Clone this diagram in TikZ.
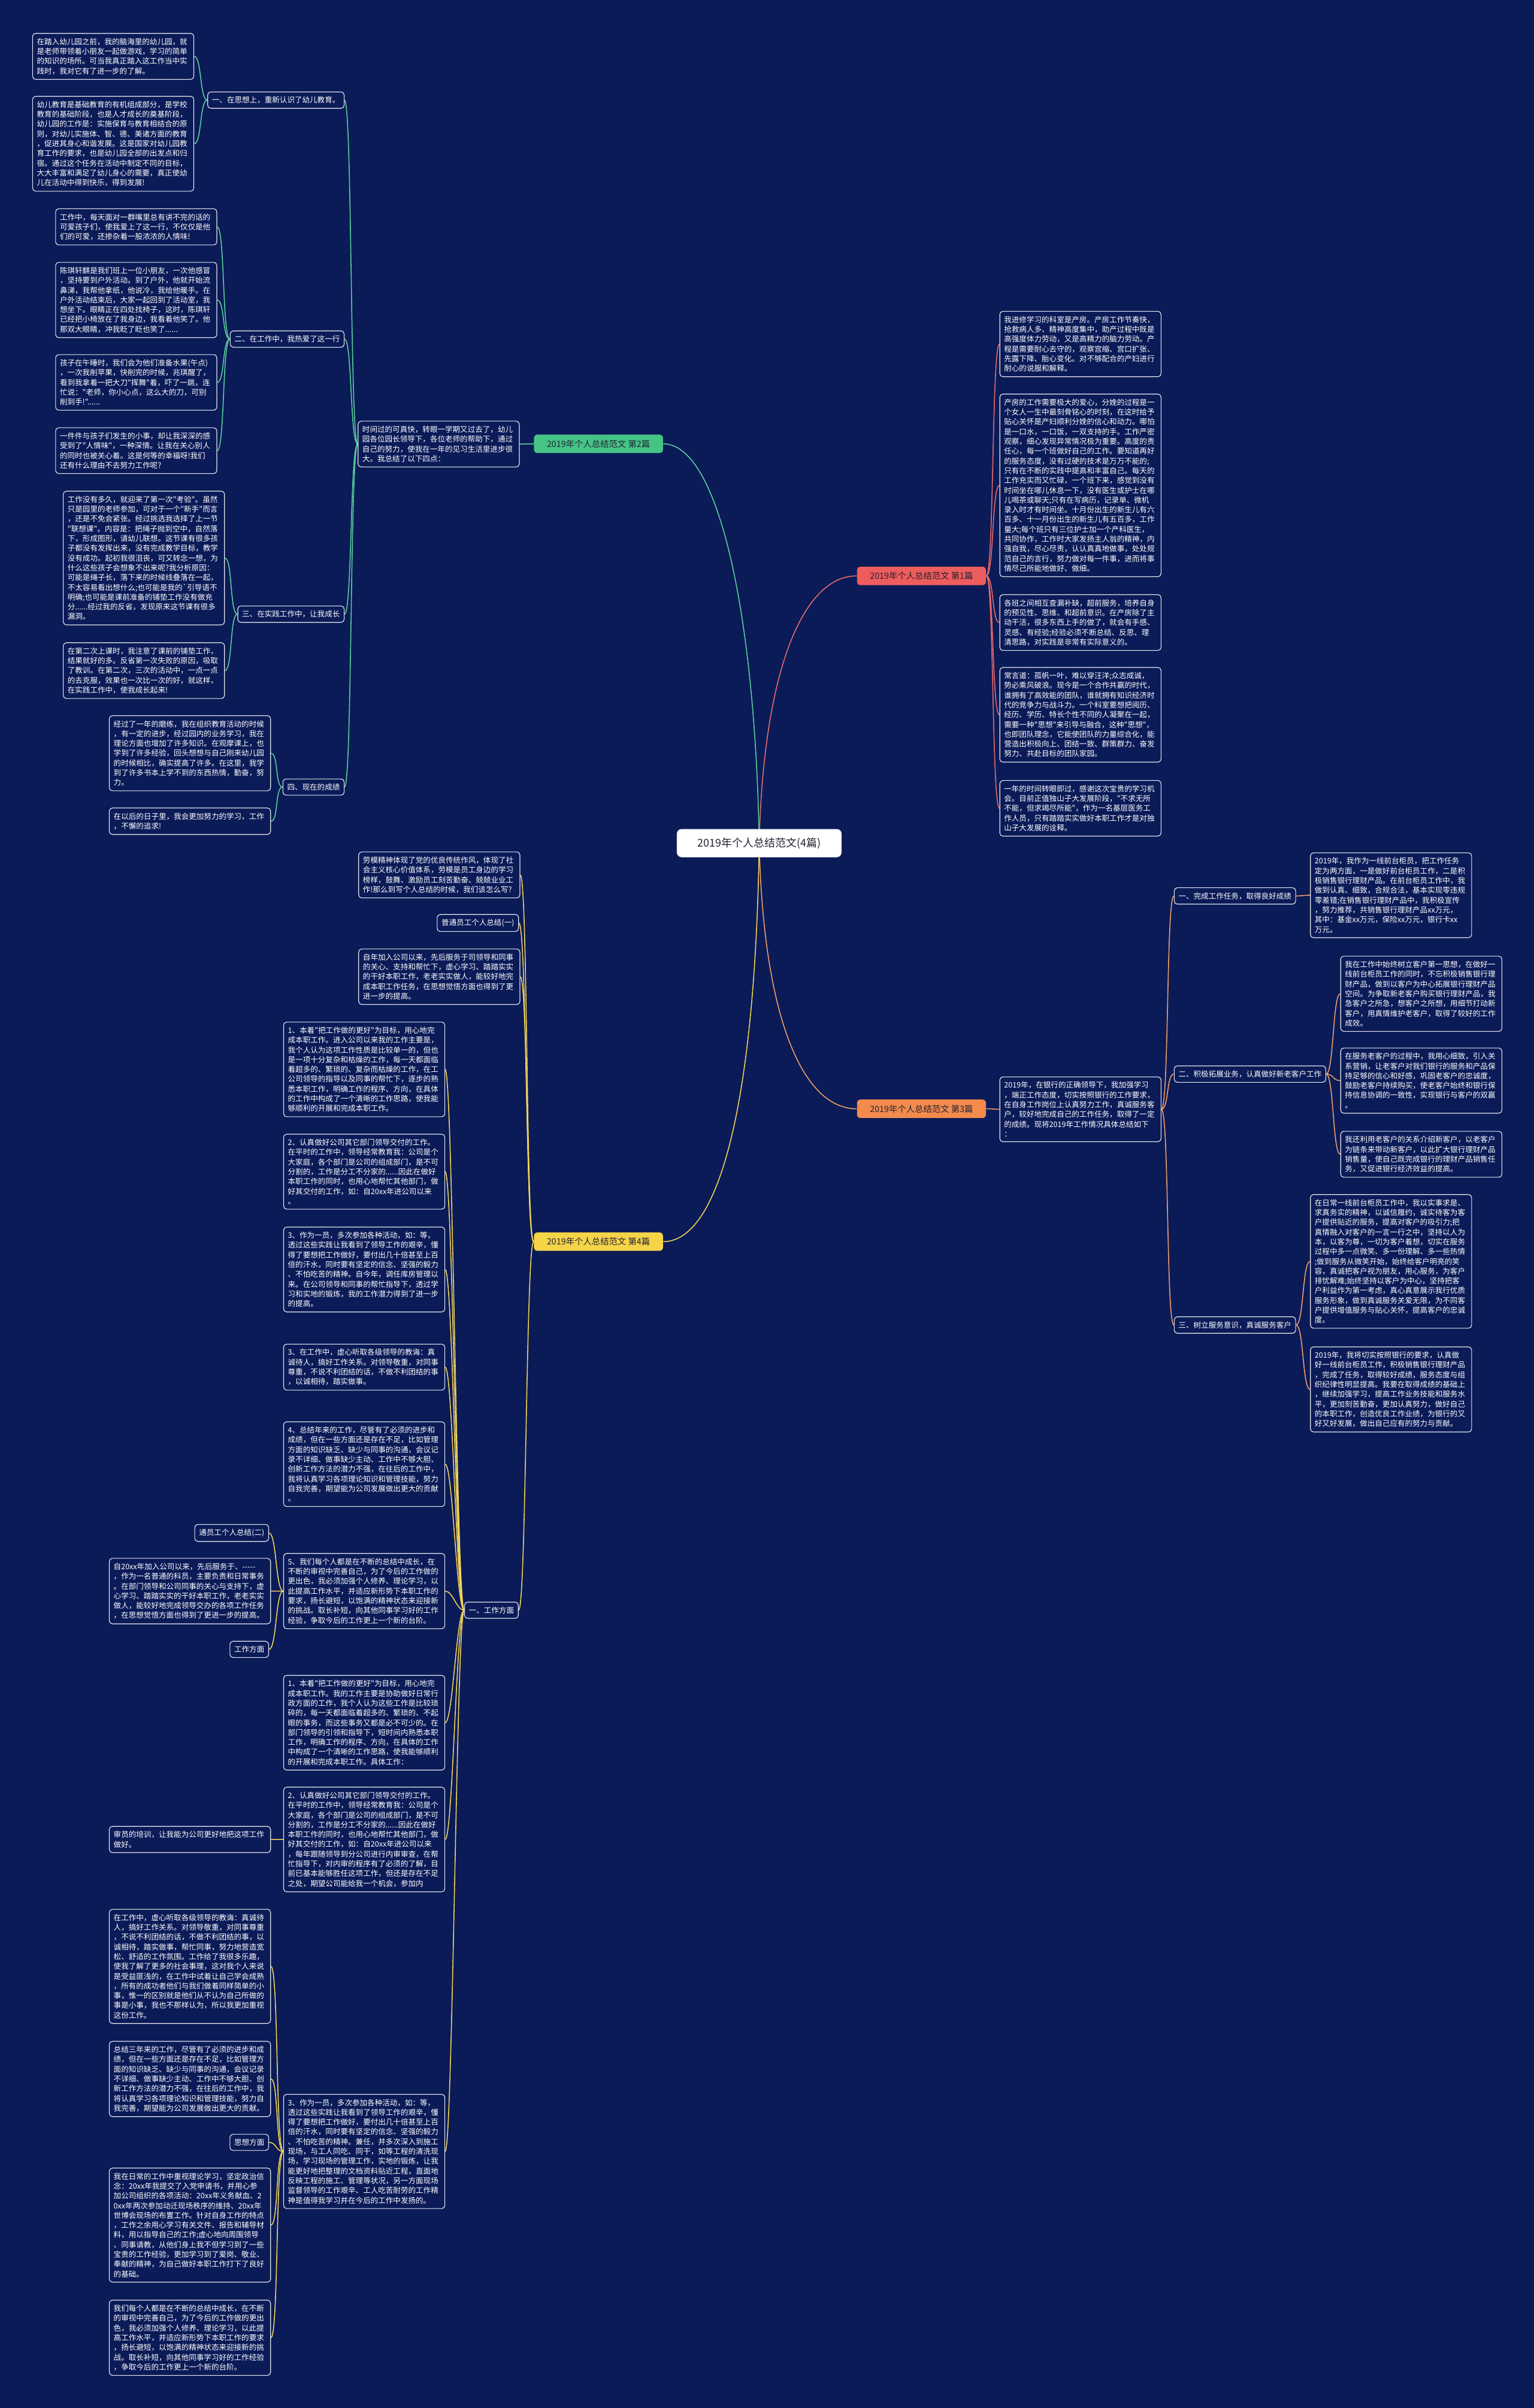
\documentclass[tikz,border=0pt]{standalone}
\usepackage{fontspec}
\newfontfamily\cjkfont{Noto Sans CJK SC}
\usetikzlibrary{calc}
\definecolor{bg}{HTML}{0B1B58}
\definecolor{bord}{HTML}{E8E8F0}
\definecolor{glin}{HTML}{5AD29A}
\definecolor{gfil}{HTML}{45C486}
\definecolor{rlin}{HTML}{EC6B6B}
\definecolor{rfil}{HTML}{EE5D5D}
\definecolor{olin}{HTML}{F3A06A}
\definecolor{ofil}{HTML}{F28B4C}
\definecolor{ylin}{HTML}{F5D55A}
\definecolor{yfil}{HTML}{F6D448}
\definecolor{dtxt}{HTML}{222233}
\pgfdeclarelayer{background}
\pgfsetlayers{background,main}
\newcommand\tfont{\cjkfont\fontsize{4.9}{6.36}\selectfont}
\newcommand\lk[3]{\draw[#1] (#2) .. controls +(-5,0) and +(5,0) .. (#3);}
\newcommand\rk[3]{\draw[#1] (#2) .. controls +(5,0) and +(-5,0) .. (#3);}
\tikzset{
  tb/.style={draw=bord, line width=0.45pt, rounded corners=2pt, fill=bg, text=white,
    font=\tfont, align=left, text width=99.4pt, inner xsep=2.8pt, inner ysep=3.1pt, anchor=north west},
  lbl/.style={draw=bord, line width=0.45pt, rounded corners=2pt, fill=bg, text=white,
    font=\tfont, inner xsep=2.8pt, inner ysep=3pt},
  brl/.style={rounded corners=2pt, text=dtxt, font=\cjkfont\fontsize{5.6}{6.5}\selectfont,
    minimum width=84pt, minimum height=12pt, inner sep=1pt},
  gl/.style={glin, line width=0.6pt},
  rl/.style={rlin, line width=0.6pt},
  ol/.style={olin, line width=0.6pt},
  yl/.style={ylin, line width=0.6pt},
}
\begin{document}
\begin{tikzpicture}[x=1pt,y=-1pt]
\begin{pgfonlayer}{background}
\fill[bg] (0,0) rectangle (999,1568);
\end{pgfonlayer}
\useasboundingbox (0,0) rectangle (999,1568);

% ---------- root ----------
\node[fill=white, draw=bord, rounded corners=3pt, text=dtxt, font=\cjkfont\fontsize{7}{8}\selectfont,
  minimum width=107pt, minimum height=18pt, inner sep=1pt] (root) at (494.5,549) {2019年个人总结范文(4篇)};

% ---------- branch 2 (green) ----------
\node[brl, fill=gfil, anchor=east] (b2) at (432,289) {2019年个人总结范文 第2篇};
\node[tb] (T2) at (233,274) {时间过的可真快，转眼一学期又过去了，幼儿\\园各位园长领导下，各位老师的帮助下，通过\\自己的努力，使我在一年的见习生活里进步很\\大。我总结了以下四点：};
\node[lbl, anchor=east] (g1) at (224.4,65.2) {一、在思想上，重新认识了幼儿教育。};
\node[lbl, anchor=east] (g2) at (224.4,220.8) {二、在工作中，我热爱了这一行};
\node[lbl, anchor=east] (g3) at (224.4,399.9) {三、在实践工作中，让我成长};
\node[lbl, anchor=east] (g4) at (224.4,512.5) {四、现在的成绩};
\node[tb] (A1) at (21,21.5) {在踏入幼儿园之前，我的脑海里的幼儿园，就\\是老师带领着小朋友一起做游戏，学习的简单\\的知识的场所。可当我真正踏入这工作当中实\\践时，我对它有了进一步的了解。};
\node[tb] (A2) at (21,62.5) {幼儿教育是基础教育的有机组成部分，是学校\\教育的基础阶段，也是人才成长的奠基阶段，\\幼儿园的工作是：实施保育与教育相结合的原\\则，对幼儿实施体、智、德、美诸方面的教育\\，促进其身心和谐发展。这是国家对幼儿园教\\育工作的要求，也是幼儿园全部的出发点和归\\宿。通过这个任务在活动中制定不同的目标，\\大大丰富和满足了幼儿身心的需要，真正使幼\\儿在活动中得到快乐，得到发展!};
\node[tb] (B1) at (36,135.7) {工作中，每天面对一群嘴里总有讲不完的话的\\可爱孩子们，使我爱上了这一行，不仅仅是他\\们的可爱，还掺杂着一股浓浓的人情味!};
\node[tb] (B2) at (36,170.6) {陈琪轩麒是我们班上一位小朋友，一次他感冒\\，坚持要到户外活动。到了户外，他就开始流\\鼻涕，我帮他拿纸，他说冷，我给他暖手。在\\户外活动结束后，大家一起回到了活动室，我\\想坐下。眼睛正在四处找椅子，这时，陈琪轩\\已经把小椅放在了我身边，我看着他笑了。他\\那双大眼睛，冲我眨了眨也笑了......};
\node[tb] (B3) at (36,230.7) {孩子在午睡时，我们会为他们准备水果(午点)\\，一次我削苹果，快削完的时候，兆琪醒了，\\看到我拿着一把大刀"挥舞"着，吓了一跳，连\\忙说："老师，你小心点，这么大的刀，可别\\削到手!"......};
\node[tb] (B4) at (36,278.3) {一件件与孩子们发生的小事，却让我深深的感\\受到了"人情味"，一种深情。让我在关心别人\\的同时也被关心着。这是何等的幸福呀!我们\\还有什么理由不去努力工作呢?};
\node[tb] (C1) at (41,319.6) {工作没有多久，就迎来了第一次"考验"。虽然\\只是园里的老师参加，可对于一个"新手"而言\\，还是不免会紧张。经过挑选我选择了上一节\\"联想课"。内容是：把绳子抛到空中，自然落\\下，形成图形，请幼儿联想。这节课有很多孩\\子都没有发挥出来，没有完成教学目标，教学\\没有成功。起初我很沮丧，可又转念一想，为\\什么这些孩子会想象不出来呢?我分析原因：\\可能是绳子长，落下来的时候线叠落在一起，\\不太容易看出想什么;也可能是我的\textasciigrave 引导语不\\明确;也可能是课前准备的铺垫工作没有做充\\分......经过我的反省，发现原来这节课有很多\\漏洞。};
\node[tb] (C2) at (41,418.3) {在第二次上课时，我注意了课前的铺垫工作，\\结果就好的多。反省第一次失败的原因，吸取\\了教训。在第二次，三次的活动中，一点一点\\的去克服，效果也一次比一次的好，就这样，\\在实践工作中，使我成长起来!};
\node[tb] (D1) at (71,465.8) {经过了一年的磨练，我在组织教育活动的时候\\，有一定的进步，经过园内的业务学习，我在\\理论方面也增加了许多知识。在观摩课上，也\\学到了许多经验，回头想想与自己刚来幼儿园\\的时候相比，确实提高了许多。在这里，我学\\到了许多书本上学不到的东西热情，勤奋，努\\力。};
\node[tb] (D2) at (71,525.9) {在以后的日子里，我会更加努力的学习，工作\\，不懈的追求!};

% ---------- branch 1 (red) ----------
\node[brl, fill=rfil, anchor=west] (b1) at (558,375) {2019年个人总结范文 第1篇};
\node[tb] (R1) at (651,202.5) {我进修学习的科室是产房。产房工作节奏快，\\抢救病人多、精神高度集中，助产过程中既是\\高强度体力劳动，又是高精力的脑力劳动。产\\程是需要耐心去守的，观察宫缩、宫口扩张、\\先露下降、胎心变化。对不够配合的产妇进行\\耐心的说服和解释。};
\node[tb] (R2) at (651,256.4) {产房的工作需要极大的爱心，分娩的过程是一\\个女人一生中最刻骨铭心的时刻，在这时给予\\贴心关怀是产妇顺利分娩的信心和动力。哪怕\\是一口水，一口饭，一双支持的手。工作严密\\观察，细心发现异常情况极为重要。高度的责\\任心，每一个班做好自己的工作。要知道再好\\的服务态度，没有过硬的技术是万万不能的;\\只有在不断的实践中提高和丰富自己。每天的\\工作充实而又忙碌，一个班下来，感觉到没有\\时间坐在哪儿休息一下，没有医生或护士在哪\\儿喝茶或聊天;只有在写病历，记录单、微机\\录入时才有时间坐。十月份出生的新生儿有六\\百多、十一月份出生的新生儿有五百多，工作\\量大;每个班只有三位护士加一个产科医生，\\共同协作，工作时大家发扬主人翁的精神，内\\强自我，尽心尽责，认认真真地做事，处处规\\范自己的言行，努力做对每一件事，进而将事\\情尽己所能地做好、做细。};
\node[tb] (R3) at (651,387) {各班之间相互查漏补缺，超前服务，培养自身\\的预见性、思维、和超前意识。在产房除了主\\动干活，很多东西上手的做了，就会有手感、\\灵感、有经验;经验必须不断总结、反思、理\\清思路，对实践是非常有实际意义的。};
\node[tb] (R4) at (651,434.4) {常言道：孤帆一叶，难以穿汪洋;众志成诚，\\势必乘风破浪。现今是一个合作共赢的时代，\\谁拥有了高效能的团队，谁就拥有知识经济时\\代的竞争力与战斗力。一个科室要想把阅历、\\经历、学历、特长个性不同的人凝聚在一起，\\需要一种"思想"来引导与融合，这种"思想"，\\也即团队理念，它能使团队的力量综合化，能\\营造出积极向上、团结一致、群策群力、奋发\\努力、共赴目标的团队家园。};
\node[tb] (R5) at (651,508) {一年的时间转眼即过，感谢这次宝贵的学习机\\会。目前正值独山子大发展阶段，"不求无所\\不能，但求竭尽所能"，作为一名基层医务工\\作人员，只有踏踏实实做好本职工作才是对独\\山子大发展的诠释。};

% ---------- branch 3 (orange) ----------
\node[brl, fill=ofil, anchor=west] (b3) at (558,722) {2019年个人总结范文 第3篇};
\node[tb] (OT) at (651,701) {2019年，在银行的正确领导下，我加强学习\\，端正工作态度，切实按照银行的工作要求，\\在自身工作岗位上认真努力工作，真诚服务客\\户，较好地完成自己的工作任务，取得了一定\\的成绩。现将2019年工作情况具体总结如下\\：};
\node[lbl, anchor=west] (s1) at (764.6,583.4) {一、完成工作任务，取得良好成绩};
\node[lbl, anchor=west] (s2) at (764.6,699.4) {二、积极拓展业务，认真做好新老客户工作};
\node[lbl, anchor=west] (s3) at (764.6,862.8) {三、树立服务意识，真诚服务客户};
\node[tb] (S1a) at (853.3,555.1) {2019年，我作为一线前台柜员，把工作任务\\定为两方面，一是做好前台柜员工作，二是积\\极销售银行理财产品。在前台柜员工作中，我\\做到认真、细致，合规合法，基本实现零违规\\零差错;在销售银行理财产品中，我积极宣传\\，努力推荐，共销售银行理财产品xx万元，\\其中：基金xx万元，保险xx万元，银行卡xx\\万元。};
\node[tb] (S2a) at (873,622.4) {我在工作中始终树立客户第一思想，在做好一\\线前台柜员工作的同时，不忘积极销售银行理\\财产品，做到以客户为中心拓展银行理财产品\\空间。为争取新老客户购买银行理财产品，我\\急客户之所急，想客户之所想，用细节打动新\\客户，用真情维护老客户，取得了较好的工作\\成效。};
\node[tb] (S2b) at (873,682.2) {在服务老客户的过程中，我用心细致，引入关\\系营销，让老客户对我们银行的服务和产品保\\持足够的信心和好感，巩固老客户的忠诚度，\\鼓励老客户持续购买，使老客户始终和银行保\\持信息协调的一致性，实现银行与客户的双赢\\。};
\node[tb] (S2c) at (873,736.4) {我还利用老客户的关系介绍新客户，以老客户\\为链条来带动新客户，以此扩大银行理财产品\\销售量，使自己既完成银行的理财产品销售任\\务，又促进银行经济效益的提高。};
\node[tb] (S3a) at (853.3,777.6) {在日常一线前台柜员工作中，我以实事求是、\\求真务实的精神，以诚信履约，诚实待客为客\\户提供贴近的服务，提高对客户的吸引力;把\\真情融入对客户的一言一行之中，坚持以人为\\本，以客为尊，一切为客户着想，切实在服务\\过程中多一点微笑、多一份理解、多一些热情\\;做到服务从微笑开始，始终给客户明亮的笑\\容，真诚把客户视为朋友，用心服务，为客户\\排忧解难;始终坚持以客户为中心，坚持把客\\户利益作为第一考虑，真心真意展示我行优质\\服务形象，做到真诚服务关爱无限，为不同客\\户提供增值服务与贴心关怀，提高客户的忠诚\\度。};
\node[tb] (S3b) at (853.3,876.8) {2019年，我将切实按照银行的要求，认真做\\好一线前台柜员工作，积极销售银行理财产品\\，完成了任务，取得较好成绩，服务态度与组\\织纪律性明显提高。我要在取得成绩的基础上\\，继续加强学习，提高工作业务技能和服务水\\平，更加刻苦勤奋，更加认真努力，做好自己\\的本职工作，创造优良工作业绩，为银行的又\\好又好发展，做出自己应有的努力与贡献。};

% ---------- branch 4 (yellow) ----------
\node[brl, fill=yfil, anchor=east] (b4) at (432,808.5) {2019年个人总结范文 第4篇};
\node[tb] (Y1) at (233.4,554.5) {劳模精神体现了党的优良传统作风，体现了社\\会主义核心价值体系，劳模是员工身边的学习\\榜样，鼓舞、激励员工刻苦勤奋、兢兢业业工\\作!那么到写个人总结的时候，我们该怎么写?};
\node[lbl, anchor=east] (Y2) at (338,601) {普通员工个人总结(一)};
\node[tb] (Y3) at (233.4,617.7) {自年加入公司以来，先后服务于司领导和同事\\的关心、支持和帮忙下，虚心学习、踏踏实实\\的干好本职工作，老老实实做人，能较好地完\\成本职工作任务，在思想觉悟方面也得到了更\\进一步的提高。};
\node[lbl, anchor=east] (W) at (337.8,1048.5) {一、工作方面};
\node[tb] (Y4) at (184.5,665.3) {1、本着"把工作做的更好"为目标，用心地完\\成本职工作。进入公司以来我的工作主要是，\\我个人认为这项工作性质是比较单一的，但也\\是一项十分复杂和枯燥的工作，每一天都面临\\着超多的、繁琐的、复杂而枯燥的工作，在工\\公司领导的指导以及同事的帮忙下，逐步的熟\\悉本职工作，明确工作的程序、方向，在具体\\的工作中构成了一个清晰的工作思路，使我能\\够顺利的开展和完成本职工作。};
\node[tb] (Y5) at (184.5,738.3) {2、认真做好公司其它部门领导交付的工作。\\在平时的工作中，领导经常教育我：公司是个\\大家庭，各个部门是公司的组成部门，是不可\\分割的，工作是分工不分家的......因此在做好\\本职工作的同时，也用心地帮忙其他部门，做\\好其交付的工作，如：自20xx年进公司以来\\。};
\node[tb] (Y6) at (184.5,798.8) {3、作为一员，多次参加各种活动，如：等，\\透过这些实践让我看到了领导工作的艰辛，懂\\得了要想把工作做好，要付出几十倍甚至上百\\倍的汗水，同时要有坚定的信念、坚强的毅力\\、不怕吃苦的精神。自今年，调任库房管理以\\来。在公司领导和同事的帮忙指导下，透过学\\习和实地的锻炼，我的工作潜力得到了进一步\\的提高。};
\node[tb] (Y7) at (184.5,875) {3、在工作中，虚心听取各级领导的教诲：真\\诚待人，搞好工作关系。对领导敬重，对同事\\尊重，不说不利团结的话，不做不利团结的事\\，以诚相待，踏实做事。};
\node[tb] (Y8) at (184.5,925.6) {4、总结年来的工作，尽管有了必须的进步和\\成绩，但在一些方面还是存在不足，比如管理\\方面的知识缺乏、缺少与同事的沟通，会议记\\录不详细、做事缺少主动、工作中不够大胆、\\创新工作方法的潜力不强，在往后的工作中，\\我将认真学习各项理论知识和管理技能，努力\\自我完善，期望能为公司发展做出更大的贡献\\。};
\node[tb] (Y9) at (184.5,1011.3) {5、我们每个人都是在不断的总结中成长，在\\不断的审视中完善自己，为了今后的工作做的\\更出色，我必须加强个人修养、理论学习，以\\此提高工作水平，并适应新形势下本职工作的\\要求，扬长避短，以饱满的精神状态来迎接新\\的挑战。取长补短，向其他同事学习好的工作\\经验，争取今后的工作更上一个新的台阶。};
\node[tb] (Z1) at (184.5,1090.7) {1、本着"把工作做的更好"为目标，用心地完\\成本职工作。我的工作主要是协助做好日常行\\政方面的工作，我个人认为这些工作是比较琐\\碎的，每一天都面临着超多的、繁琐的、不起\\眼的事务，而这些事务又都是必不可少的。在\\部门领导的引领和指导下，短时间内熟悉本职\\工作，明确工作的程序、方向，在具体的工作\\中构成了一个清晰的工作思路，使我能够顺利\\的开展和完成本职工作。具体工作：};
\node[tb] (Z2) at (184.5,1163.5) {2、认真做好公司其它部门领导交付的工作。\\在平时的工作中，领导经常教育我：公司是个\\大家庭，各个部门是公司的组成部门，是不可\\分割的，工作是分工不分家的......因此在做好\\本职工作的同时，也用心地帮忙其他部门，做\\好其交付的工作，如：自20xx年进公司以来\\，每年跟随领导到分公司进行内审审查，在帮\\忙指导下，对内审的程序有了必须的了解，目\\前已基本能够胜任这项工作，但还是存在不足\\之处，期望公司能给我一个机会，参加内};
\node[tb] (Z3) at (184.5,1363.5) {3、作为一员，多次参加各种活动，如：等，\\透过这些实践让我看到了领导工作的艰辛，懂\\得了要想把工作做好，要付出几十倍甚至上百\\倍的汗水，同时要有坚定的信念、坚强的毅力\\、不怕吃苦的精神。兼任，并多次深入到施工\\现场，与工人同吃、同干，如等工程的清洗现\\场，学习现场的管理工作，实地的锻炼，让我\\能更好地把整理的文档资料贴近工程，直面地\\反映工程的施工、管理等状况，另一方面现场\\监督领导的工作艰辛、工人吃苦耐劳的工作精\\神是值得我学习并在今后的工作中发扬的。};
\node[lbl, anchor=east] (L0) at (175.2,998.2) {通员工个人总结(二)};
\node[tb] (L1) at (71,1014.5) {自20xx年加入公司以来，先后服务于、-{}-{}-{}-{}-\\，作为一名普通的科员，主要负责和日常事务\\。在部门领导和公司同事的关心与支持下，虚\\心学习、踏踏实实的干好本职工作，老老实实\\做人，能较好地完成领导交办的各项工作任务\\，在思想觉悟方面也得到了更进一步的提高。};
\node[lbl, anchor=east] (L2) at (175.2,1074) {工作方面};
\node[tb] (L3) at (71,1189) {审员的培训，让我能为公司更好地把这项工作\\做好。};
\node[tb] (L4) at (71,1243) {在工作中，虚心听取各级领导的教诲：真诚待\\人，搞好工作关系。对领导敬重，对同事尊重\\，不说不利团结的话，不做不利团结的事，以\\诚相待，踏实做事，帮忙同事，努力地营造宽\\松、舒适的工作氛围。工作给了我很多乐趣，\\使我了解了更多的社会事理，这对我个人来说\\是受益匪浅的，在工作中试着让自己学会成熟\\，所有的成功者他们与我们做着同样简单的小\\事，惟一的区别就是他们从不认为自己所做的\\事是小事，我也不那样认为，所以我更加重视\\这份工作。};
\node[tb] (L5) at (71,1329) {总结三年来的工作，尽管有了必须的进步和成\\绩，但在一些方面还是存在不足，比如管理方\\面的知识缺乏、缺少与同事的沟通，会议记录\\不详细、做事缺少主动、工作中不够大胆、创\\新工作方法的潜力不强，在往后的工作中，我\\将认真学习各项理论知识和管理技能，努力自\\我完善，期望能为公司发展做出更大的贡献。};
\node[lbl, anchor=east] (L6) at (175.2,1395) {思想方面};
\node[tb] (L7) at (71,1411.5) {我在日常的工作中重视理论学习，坚定政治信\\念：20xx年我提交了入党申请书，并用心参\\加公司组织的各项活动：20xx年义务献血、2\\0xx年两次参加动迁现场秩序的维持、20xx年\\世博会现场的布置工作。针对自身工作的特点\\，工作之余用心学习有关文件、报告和辅导材\\料，用以指导自己的工作;虚心地向周围领导\\、同事请教，从他们身上我不但学习到了一些\\宝贵的工作经验，更加学习到了爱岗、敬业、\\奉献的精神，为自己做好本职工作打下了良好\\的基础。};
\node[tb] (L8) at (71,1497.5) {我们每个人都是在不断的总结中成长，在不断\\的审视中完善自己，为了今后的工作做的更出\\色，我必须加强个人修养、理论学习，以此提\\高工作水平，并适应新形势下本职工作的要求\\，扬长避短，以饱满的精神状态来迎接新的挑\\战。取长补短，向其他同事学习好的工作经验\\，争取今后的工作更上一个新的台阶。};

% ---------- connectors ----------
\begin{pgfonlayer}{background}
\draw[gl] (root.center) .. controls (492,400) and (468,289) .. (b2.east);
\draw[rl] (root.center) .. controls (497,440) and (522,375) .. (b1.west);
\draw[ol] (root.center) .. controls (497,660) and (522,722) .. (b3.west);
\draw[yl] (root.center) .. controls (492,720) and (468,808.5) .. (b4.east);
% green
\lk{gl}{b2.west}{T2.east}
\lk{gl}{T2.west}{g1.east}
\lk{gl}{T2.west}{g2.east}
\lk{gl}{T2.west}{g3.east}
\lk{gl}{T2.west}{g4.east}
\lk{gl}{g1.west}{A1.east}
\lk{gl}{g1.west}{A2.east}
\lk{gl}{g2.west}{B1.east}
\lk{gl}{g2.west}{B2.east}
\lk{gl}{g2.west}{B3.east}
\lk{gl}{g2.west}{B4.east}
\lk{gl}{g3.west}{C1.east}
\lk{gl}{g3.west}{C2.east}
\lk{gl}{g4.west}{D1.east}
\lk{gl}{g4.west}{D2.east}
% red
\rk{rl}{b1.east}{R1.west}
\rk{rl}{b1.east}{R2.west}
\rk{rl}{b1.east}{R3.west}
\rk{rl}{b1.east}{R4.west}
\rk{rl}{b1.east}{R5.west}
% orange
\rk{ol}{b3.east}{OT.west}
\rk{ol}{OT.east}{s1.west}
\rk{ol}{OT.east}{s2.west}
\rk{ol}{OT.east}{s3.west}
\rk{ol}{s1.east}{S1a.west}
\rk{ol}{s2.east}{S2a.west}
\rk{ol}{s2.east}{S2b.west}
\rk{ol}{s2.east}{S2c.west}
\rk{ol}{s3.east}{S3a.west}
\rk{ol}{s3.east}{S3b.west}
% yellow
\lk{yl}{b4.west}{Y1.east}
\lk{yl}{b4.west}{Y2.east}
\lk{yl}{b4.west}{Y3.east}
\lk{yl}{b4.west}{W.east}
\lk{yl}{W.west}{Y4.east}
\lk{yl}{W.west}{Y5.east}
\lk{yl}{W.west}{Y6.east}
\lk{yl}{W.west}{Y7.east}
\lk{yl}{W.west}{Y8.east}
\lk{yl}{W.west}{Y9.east}
\lk{yl}{W.west}{Z1.east}
\lk{yl}{W.west}{Z2.east}
\lk{yl}{W.west}{Z3.east}
\lk{yl}{Y9.west}{L0.east}
\lk{yl}{Y9.west}{L1.east}
\lk{yl}{Y9.west}{L2.east}
\lk{yl}{Z2.west}{L3.east}
\lk{yl}{Z3.west}{L4.east}
\lk{yl}{Z3.west}{L5.east}
\lk{yl}{Z3.west}{L6.east}
\lk{yl}{Z3.west}{L7.east}
\lk{yl}{Z3.west}{L8.east}
\end{pgfonlayer}
\end{tikzpicture}
\end{document}
